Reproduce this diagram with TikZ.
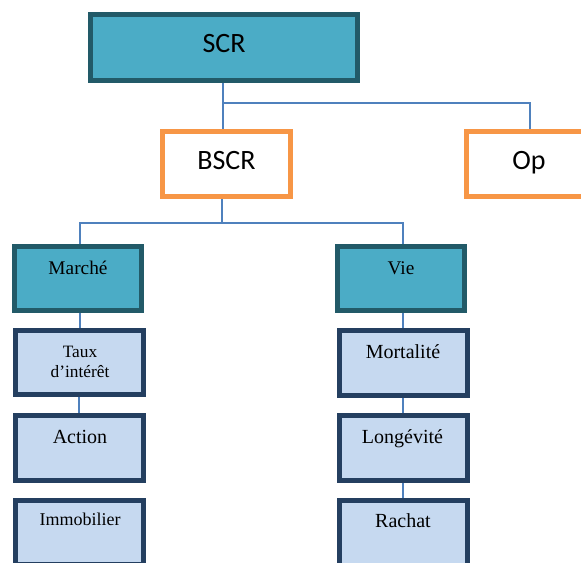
\documentclass[tikz,border=0pt]{standalone}
\usepackage{fontspec}
\setmainfont{Liberation Serif}
\newfontfamily\headfont{Carlito}
\definecolor{tealfill}{HTML}{4BACC6}
\definecolor{tealline}{HTML}{225A68}
\definecolor{palefill}{HTML}{C6D9F0}
\definecolor{navyline}{HTML}{243F60}
\definecolor{orangeline}{HTML}{F79646}
\definecolor{linkblue}{HTML}{4F81BD}
\begin{document}
\begin{tikzpicture}[x=0.75pt,y=-0.75pt,
  box/.style={rectangle, draw, inner sep=0pt, line width=3.75pt},
  headbox/.style={box, draw=tealline, fill=tealfill},
  splitbox/.style={box, draw=orangeline, fill=white, minimum width=96pt, minimum height=48.75pt},
  groupbox/.style={headbox, minimum width=95.25pt, minimum height=48pt},
  leafbox/.style={box, draw=navyline, fill=palefill, minimum width=96pt, minimum height=48.5pt},
  conn/.style={draw=linkblue, line width=1.3pt},
  bigtxt/.style={anchor=base, inner sep=0pt, font=\headfont\fontsize{21pt}{25pt}\selectfont},
  txt/.style={anchor=base, inner sep=0pt, align=center}]
\useasboundingbox (0,0) rectangle (581,563);
\clip (0,0) rectangle (581,563);

% top levels
\node[headbox, minimum width=200.25pt, minimum height=49.5pt] (SCR) at (224,47.5) {};
\node[splitbox] (BSCR) at (226.5,164) {};
\node[splitbox] (Op) at (530,164) {};

% risk groups
\node[groupbox] (Marche) at (78,278.5) {};
\node[groupbox] (Vie) at (401,278.5) {};

% sub-modules
\node[leafbox] (Taux) at (79.5,362.5) {};
\node[leafbox] (Action) at (79.5,448) {};
\node[leafbox] (Immo) at (79.5,532.5) {};
\node[leafbox] (Mort) at (403,363) {};
\node[leafbox] (Long) at (403,448) {};
\node[leafbox] (Rachat) at (403,533) {};

% junctions
\coordinate (j1) at (223,103);
\coordinate (j2) at (222,223);
\coordinate (jL) at (80,223);
\coordinate (jR) at (403,223);

% connectors
\draw[conn] (SCR.south -| j1) -- (j1 |- BSCR.north);
\draw[conn] (j1) -- (j1 -| Op.north) -- (Op.north);
\draw[conn] (BSCR.south -| j2) -- (j2);
\draw[conn] (jL |- Marche.north) -- (jL) -- (jR) -- (jR |- Vie.north);
\draw[conn] (Marche.south -| jL) -- (Taux.north -| jL);
\draw[conn] ([xshift=-0.75pt]Taux.south -| jL) -- ([xshift=-0.75pt]Action.north -| jL);
\draw[conn] (Vie.south -| jR) -- (Mort.north -| jR);
\draw[conn] (Mort.south -| jR) -- (Long.north -| jR);
\draw[conn] (Long.south -| jR) -- (Rachat.north -| jR);

% labels
\node[bigtxt] (tSCR) at (224,53) {SCR};
\node[bigtxt] (tBSCR) at (226.5,170) {BSCR};
\node[bigtxt] (tOp) at (529,170) {Op};
\node[txt, font=\fontsize{14.5pt}{17pt}\selectfont] (tMarche) at (78,274) {Marché};
\node[txt, font=\fontsize{14.5pt}{17pt}\selectfont] (tVie) at (401,274) {Vie};
\node[txt, font=\fontsize{13pt}{15pt}\selectfont] (tTaux) at (80,377) {Taux\\d’intérêt};
\node[txt, font=\fontsize{15pt}{18pt}\selectfont] (tAction) at (80,443) {Action};
\node[txt, font=\fontsize{13.5pt}{16pt}\selectfont] (tImmo) at (80,525) {Immobilier};
\node[txt, font=\fontsize{15pt}{18pt}\selectfont] (tMort) at (403,358) {Mortalité};
\node[txt, font=\fontsize{15pt}{18pt}\selectfont] (tLong) at (402.5,443.5) {Longévité};
\node[txt, font=\fontsize{15pt}{18pt}\selectfont] (tRachat) at (403,527) {Rachat};
\end{tikzpicture}
\end{document}
